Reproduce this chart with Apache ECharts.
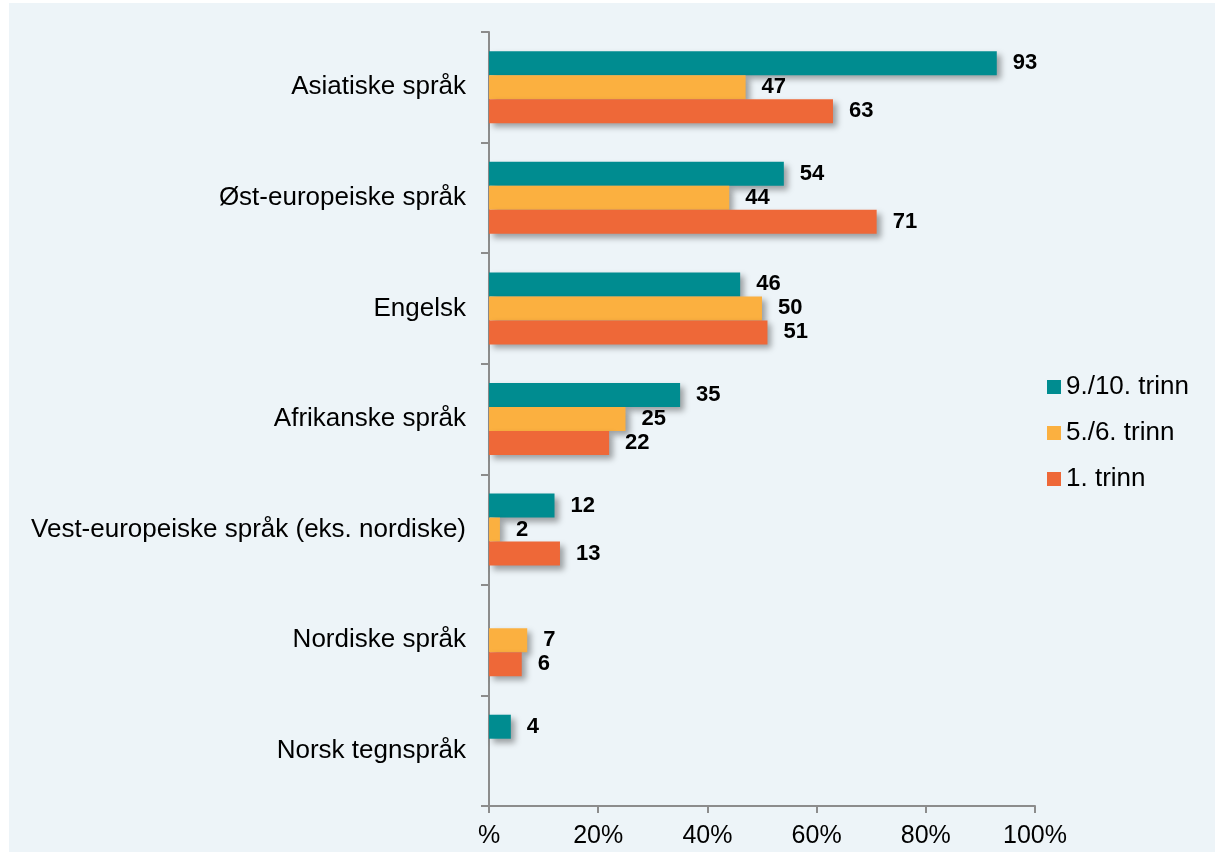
<!DOCTYPE html>
<html>
<head>
<meta charset="utf-8">
<script src="https://cdn.jsdelivr.net/npm/echarts@6/dist/echarts.min.js"></script>
<style>
  html, body { margin: 0; padding: 0; background: #ffffff; }
  #chart { position: absolute; left: 9px; top: 3px; width: 1206px; height: 849px; background: #edf4f8; }
</style>
</head>
<body>
<div id="chart"></div>
<script>
// kategorier (topp til bunn)
const categories = [
  'Asiatiske språk',
  'Øst-europeiske språk',
  'Engelsk',
  'Afrikanske språk',
  'Vest-europeiske språk (eks. nordiske)',
  'Nordiske språk',
  'Norsk tegnspråk'
];
const seriesNames = ['9./10. trinn', '5./6. trinn', '1. trinn'];
const trinn910 = [93, 54, 46, 35, 12, null, 4];
const trinn56 = [47, 44, 50, 25, 2, 7, null];
const trinn1 = [63, 71, 51, 22, 13, 6, null];
const xTicks = [0, 20, 40, 60, 80, 100];

const colors = ['#008c90', '#fbb040', '#ee6838'];
const font = '"Liberation Sans", Arial, sans-serif';

var chartDom = document.getElementById('chart');
var myChart = echarts.init(chartDom, null, {renderer: 'canvas'});

const mkSeries = (name, data, i) => ({
  name: name,
  type: 'bar',
  data: data,
  barWidth: 24,
  barGap: '0%',
  itemStyle: {
    color: colors[i],
    shadowColor: 'rgba(0,0,0,0.35)',
    shadowBlur: 6,
    shadowOffsetX: 4,
    shadowOffsetY: 4
  },
  label: {
    show: true,
    position: 'right',
    distance: 16,
    color: '#000',
    fontFamily: font,
    fontWeight: 'bold',
    fontSize: 22
  }
});

const option = {
  animation: false,
  legend: {
    orient: 'vertical',
    left: 1033,
    top: 366,
    itemWidth: 14,
    itemHeight: 14,
    itemGap: 20,
    icon: 'rect',
    data: seriesNames,
    textStyle: {fontFamily: font, fontSize: 26, lineHeight: 24, color: '#000'},
    itemStyle: {shadowBlur: 0, shadowOffsetX: 0, shadowOffsetY: 0}
  },
  grid: {left: 480, right: 180, top: 29, bottom: 46},
  xAxis: {
    type: 'value',
    min: 0,
    max: 100,
    interval: 20,
    splitLine: {show: false},
    axisLine: {show: true, lineStyle: {color: '#8c8c8c', width: 2}},
    axisTick: {show: true, length: 7, lineStyle: {color: '#8c8c8c', width: 2}},
    axisLabel: {
      fontFamily: font,
      fontSize: 25,
      color: '#000',
      margin: 18,
      formatter: (v) => (xTicks.indexOf(v) === 0 ? '%' : v + '%')
    }
  },
  yAxis: {
    type: 'category',
    inverse: true,
    data: categories,
    axisLine: {show: true, lineStyle: {color: '#8c8c8c', width: 2}},
    axisTick: {show: true, length: 8, lineStyle: {color: '#8c8c8c', width: 2}},
    axisLabel: {fontFamily: font, fontSize: 26, color: '#000', margin: 23}
  },
  series: [
    mkSeries(seriesNames[0], trinn910, 0),
    mkSeries(seriesNames[1], trinn56, 1),
    mkSeries(seriesNames[2], trinn1, 2)
  ]
};
option && myChart.setOption(option);
</script>
</body>
</html>
